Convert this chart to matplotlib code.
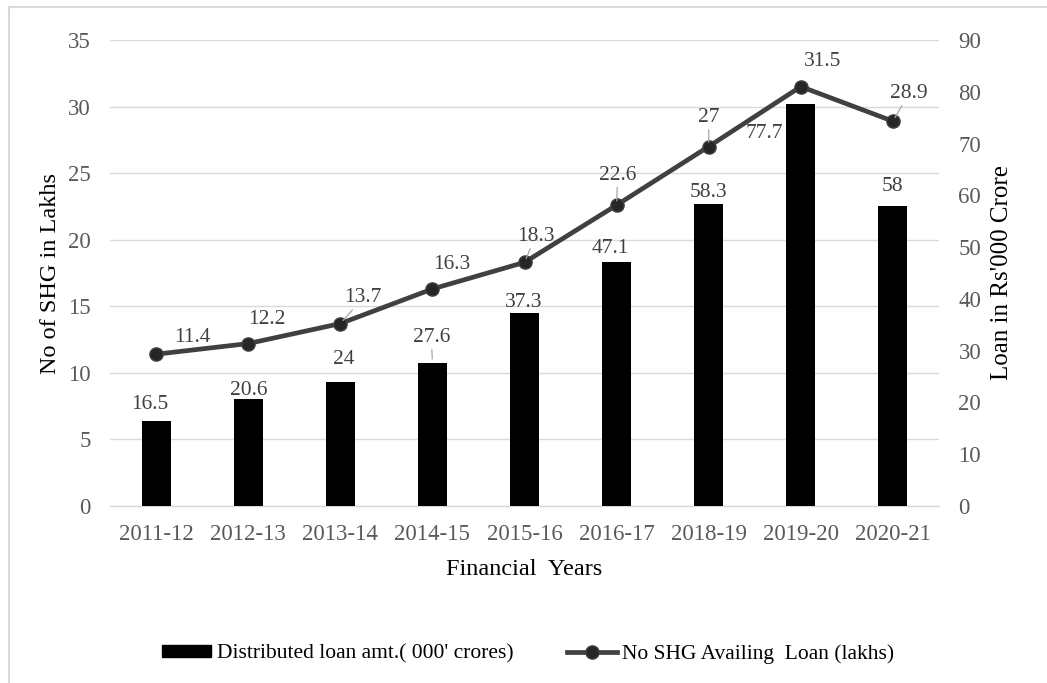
import matplotlib
matplotlib.use("Agg")
import matplotlib.pyplot as plt
from matplotlib.lines import Line2D
import numpy as np

plt.rcParams['font.family'] = ['Liberation Serif', 'DejaVu Serif']

years = ["2011-12", "2012-13", "2013-14", "2014-15", "2015-16",
         "2016-17", "2018-19", "2019-20", "2020-21"]
loan_amt = [16.5, 20.6, 24, 27.6, 37.3, 47.1, 58.3, 77.7, 58]      # 000' crores
shg_count = [11.4, 12.2, 13.7, 16.3, 18.3, 22.6, 27, 31.5, 28.9]   # lakhs
shg_labels = ["11.4", "12.2", "13.7", "16.3", "18.3", "22.6", "27", "31.5", "28.9"]
loan_labels = ["16.5", "20.6", "24", "27.6", "37.3", "47.1", "58.3", "77.7", "58"]

# label offsets in pixels (dx, dy up), and whether a leader line is drawn
shg_off = [(36, 17), (19, 24), (23, 26), (19, 24), (11, 26),
           (1, 30), (0, 29), (22, 25), (16, 28)]
shg_leader = [False, False, True, False, True, True, True, False, True]
loan_off = [(-6, 16), (1, 9), (3, 22), (-1, 26), (-1, 10),
            (-6, 14), (0, 12), (-36, -30), (0, 19)]
loan_leader = [False, False, False, True, False, False, False, False, False]

grid_c = '#d9d9d9'
tick_c = '#595959'
lab_c = '#404040'

fig = plt.figure(figsize=(10.47, 6.83), dpi=100)
ax = fig.add_axes([110 / 1047, 1 - 506 / 683, 829 / 1047, 466 / 683])
x = np.arange(len(years))

# base axis: left scale + grid
ax.set_ylim(0, 35)
ax.set_yticks(range(0, 36, 5))
ax.set_xlim(-0.5, len(years) - 0.5)
ax.set_xticks(x)
ax.set_xticklabels(years)
ax.grid(axis='y', color=grid_c, lw=1.0)
ax.set_axisbelow(True)

# bars on right scale
ax2 = ax.twinx()
ax2.bar(x, loan_amt, width=0.315, color='black', zorder=2)
ax2.set_ylim(0, 90)
ax2.set_yticks(range(0, 91, 10))

# line on left scale, drawn above the bars
ax3 = ax.twinx()
ax3.set_ylim(0, 35)
ax3.plot(x, shg_count, color='#404040', lw=3.4, marker='o', markersize=9.5,
         markerfacecolor='#262626', markeredgecolor='#404040', zorder=3)
ax3.set_yticks([])

for a in (ax, ax2, ax3):
    for s in a.spines.values():
        s.set_visible(False)
ax.spines['bottom'].set_visible(True)
ax.spines['bottom'].set_color(grid_c)
ax.spines['bottom'].set_linewidth(1.0)

ax.tick_params(axis='both', length=0, labelsize=16.5, labelcolor=tick_c)
ax.tick_params(axis='y', pad=14)
ax.tick_params(axis='x', pad=13)
ax2.tick_params(axis='y', length=0, labelsize=16.5, labelcolor=tick_c, pad=14)

leader = dict(arrowstyle='-', color='#a6a6a6', lw=0.9, shrinkA=0, shrinkB=3)
for i, (v, t) in enumerate(zip(shg_count, shg_labels)):
    dx, dy = shg_off[i]
    ax3.annotate(t, (i, v), xytext=(dx, dy), textcoords='offset pixels',
                 ha='center', va='center', fontsize=15.5, color=lab_c,
                 arrowprops=leader if shg_leader[i] else None, zorder=4)
for i, (v, t) in enumerate(zip(loan_amt, loan_labels)):
    dx, dy = loan_off[i]
    ax2.annotate(t, (i, v), xytext=(dx, dy), textcoords='offset pixels',
                 ha='center', va='center', fontsize=15.5, color=lab_c,
                 arrowprops=leader if loan_leader[i] else None)

ax.set_ylabel("No of SHG in Lakhs", fontsize=17.5, color='black', labelpad=5)
ax2.set_ylabel("Loan in Rs'000 Crore", fontsize=18, color='black', labelpad=7)
ax.set_xlabel("Financial  Years", fontsize=17.5, color='black', labelpad=10)

handles = [plt.Rectangle((0, 0), 1, 1, color='black'),
           Line2D([], [], color='#404040', lw=3.4, marker='o', markersize=9.5,
                  markerfacecolor='#262626', markeredgecolor='#404040')]
fig.legend(handles, ["Distributed loan amt.( 000' crores)",
                     "No SHG Availing  Loan (lakhs)"],
           loc='center', bbox_to_anchor=(528 / 1047, 1 - 654 / 683),
           ncol=2, frameon=False, fontsize=15.5, handlelength=2.3,
           handleheight=0.5, handletextpad=0.25, columnspacing=2.5)

# outer chart frame (top and left edges visible)
fig.add_artist(Line2D([9 / 1047, 1], [1 - 7 / 683, 1 - 7 / 683],
                      transform=fig.transFigure, color=grid_c, lw=1.5))
fig.add_artist(Line2D([9 / 1047, 9 / 1047], [0, 1 - 7 / 683],
                      transform=fig.transFigure, color=grid_c, lw=1.5))

fig.savefig("out.png", dpi=100)
